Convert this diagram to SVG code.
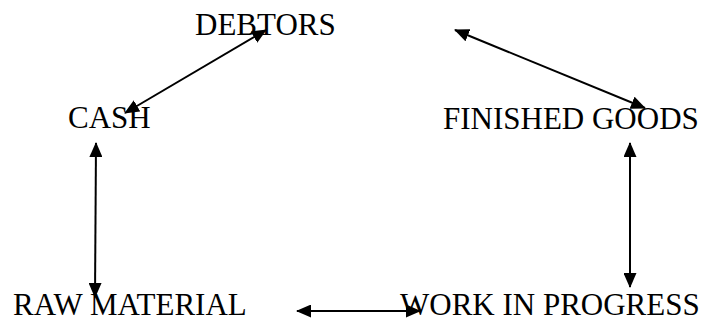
<svg xmlns="http://www.w3.org/2000/svg" width="707" height="322" viewBox="0 0 707 322">
<style>
text{font-family:"Liberation Serif","Times New Roman",serif;font-size:31px;fill:#000}
.c{stroke:#000;stroke-width:2;fill:none;marker-start:url(#ah);marker-end:url(#ah)}
</style>
<defs>
<marker id="ah" markerUnits="userSpaceOnUse" viewBox="0 0 15 13" refX="14" refY="6.5" markerWidth="15" markerHeight="13" orient="auto-start-reverse">
<path d="M0,0 L15,6.5 L0,13 Z" fill="#000"/>
</marker>
</defs>
<rect width="707" height="322" fill="#fff"/>
<g id="connectors">
<line class="c" x1="125" y1="113" x2="266" y2="30"/>
<line class="c" x1="455" y1="30" x2="645" y2="108"/>
<line class="c" x1="96" y1="143" x2="95" y2="297"/>
<line class="c" x1="630" y1="143" x2="630" y2="287"/>
<line class="c" x1="297" y1="311" x2="420" y2="311"/>
</g>
<g id="debtors"><text x="195" y="35">DEBTORS</text></g>
<g id="cash"><text x="68" y="128">CASH</text></g>
<g id="finished-goods"><text x="443" y="129">FINISHED GOODS</text></g>
<g id="raw-material"><text x="13" y="315">RAW MATERIAL</text></g>
<g id="work-in-progress"><text x="400" y="315">WORK IN PROGRESS</text></g>
</svg>
